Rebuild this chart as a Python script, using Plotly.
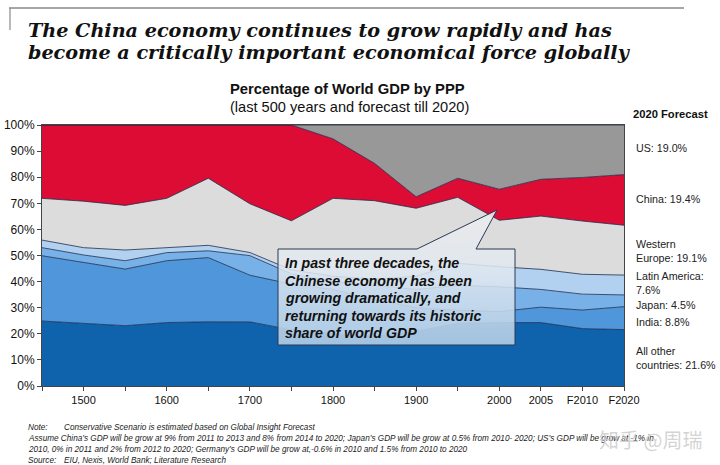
import plotly.graph_objects as go

# ---------------- data ----------------
categories = ["", "1500", "", "1600", "", "1700", "", "1800", "", "1900", "", "2000", "2005", "F2010", "F2020"]
all_other = [24.9, 24.0, 23.1, 24.3, 24.6, 24.6, 21.5, 20.0, 19.0, 21.0, 24.0, 24.3, 24.3, 22.0, 21.6]
india     = [25.0, 23.3, 21.7, 23.7, 24.6, 17.9, 17.5, 17.0, 14.0, 9.0, 5.0, 4.2, 5.9, 7.1, 8.8]
japan     = [3.1, 2.9, 3.2, 3.1, 2.6, 7.5, 4.0, 3.0, 5.5, 7.0, 9.5, 9.5, 6.8, 6.1, 4.5]
latam     = [2.9, 2.8, 4.1, 1.9, 2.1, 1.2, 1.5, 2.0, 2.5, 5.0, 8.5, 7.7, 7.7, 7.6, 7.6]
w_europe  = [16.0, 17.8, 17.1, 18.9, 25.7, 18.7, 18.8, 29.9, 30.0, 26.1, 25.3, 17.8, 20.4, 20.4, 19.1]
china     = [28.1, 29.2, 30.8, 28.1, 20.4, 30.2, 36.7, 22.8, 14.3, 4.4, 7.3, 11.9, 14.1, 16.7, 19.4]
us        = [0.0, 0.0, 0.0, 0.0, 0.0, 0.0, 0.0, 5.3, 14.7, 27.5, 20.4, 24.6, 20.8, 20.1, 19.0]

series_names = ["All other countries", "India", "Japan", "Latin America", "Western Europe", "China", "US"]
series_values = [all_other, india, japan, latam, w_europe, china, us]
series_colors = ["#0F62AC", "#4F96DA", "#78B1E8", "#B2D1F1", "#DCDCDC", "#DC0C35", "#989898"]

forecast_labels = ["US: 19.0%", "China: 19.4%", "Western<br>Europe: 19.1%", "Latin America:<br>7.6%",
                   "Japan: 4.5%", "India: 8.8%", "All other<br>countries: 21.6%"]
y_ticks = [0, 10, 20, 30, 40, 50, 60, 70, 80, 90, 100]

# ---------------- layout geometry ----------------
W, H = 720, 465
ML, MR, MT, MB = 42, 96, 125, 79
PW, PH = W - ML - MR, H - MT - MB


def px(x):
    return (x - ML) / PW


def py(y):
    return (H - MB - y) / PH


xs = list(range(len(categories)))

fig = go.Figure()
for name, vals, col in zip(series_names, series_values, series_colors):
    fig.add_trace(go.Scatter(
        x=xs, y=vals, name=name, mode="lines", stackgroup="one", groupnorm="percent",
        line=dict(color="#1B2B4B", width=0.8), fillcolor=col, hoverinfo="skip"))


# callout box (data coordinates derived from pixel geometry)
def dx(p):
    return (p - ML) / PW * (len(categories) - 1)


def dy(p):
    return (H - MB - p) / PH * 100


box = [(278, 249), (417, 249), (497, 210), (476, 249), (515, 249), (515, 345), (278, 345), (278, 249)]
fig.add_trace(go.Scatter(
    x=[dx(a) for a, b in box], y=[dy(b) for a, b in box], mode="lines", fill="toself",
    fillgradient=dict(type="vertical", colorscale=[[0, "rgba(186,210,232,0.86)"],
                                                   [0.55, "rgba(224,232,240,0.86)"],
                                                   [1, "rgba(236,236,236,0.92)"]]),
    line=dict(color="#2A3A55", width=1), hoverinfo="skip", showlegend=False))

annotations = []
# titles
title_font = dict(family="DejaVu Serif", size=19.2, color="#111")
annotations.append(dict(x=px(26), y=py(30), xref="paper", yref="paper", xanchor="left", yanchor="middle",
                        text="<b><i>The China economy continues to grow rapidly and has</i></b>", showarrow=False,
                        font=title_font))
annotations.append(dict(x=px(26), y=py(53), xref="paper", yref="paper", xanchor="left", yanchor="middle",
                        text="<b><i>become a critically important economical force globally</i></b>", showarrow=False,
                        font=title_font))
annotations.append(dict(x=px(347), y=py(89), xref="paper", yref="paper", xanchor="center", yanchor="middle",
                        text="<b>Percentage of World GDP by PPP</b>", showarrow=False,
                        font=dict(family="Liberation Sans, Arial", size=14.8, color="#111")))
annotations.append(dict(x=px(349), y=py(107), xref="paper", yref="paper", xanchor="center", yanchor="middle",
                        text="(last 500 years and forecast till 2020)", showarrow=False,
                        font=dict(family="Liberation Sans, Arial", size=14.6, color="#111")))
annotations.append(dict(x=px(670), y=py(114), xref="paper", yref="paper", xanchor="center", yanchor="middle",
                        text="<b>2020 Forecast</b>", showarrow=False,
                        font=dict(family="Liberation Sans, Arial", size=11.2, color="#111")))

# forecast labels
label_y = [148, 199, 251, 283, 305, 322, 358]
for t, yy in zip(forecast_labels, label_y):
    annotations.append(dict(x=px(634), y=py(yy), xref="paper", yref="paper", xanchor="left", yanchor="middle",
                            text=t, showarrow=False, align="left",
                            font=dict(family="Liberation Sans, Arial", size=10.7, color="#222")))

# callout text
callout_lines = ["In past three decades, the", "Chinese economy has been", "growing dramatically, and",
                 "returning towards its historic", "share of world GDP"]
for i, t in enumerate(callout_lines):
    annotations.append(dict(x=px(283), y=py(263 + i * 17.6), xref="paper", yref="paper", xanchor="left",
                            yanchor="middle", text="<b><i>" + t + "</i></b>", showarrow=False,
                            font=dict(family="Liberation Sans, Arial", size=14.2, color="#111")))

# notes
note_font = dict(family="Liberation Sans, Arial", size=8.2, color="#222")
notes = [
    (26, 427, "<i>Note:</i>"),
    (62, 427, "<i>Conservative Scenario is estimated based on Global Insight Forecast</i>"),
    (26, 438, "<i>Assume China\u2019s GDP will be grow at 9% from 2011 to 2013 and 8% from 2014 to 2020; Japan\u2019s GDP will be grow at 0.5% from 2010- 2020; US\u2019s GDP will be grow at -1% in</i>"),
    (26, 449, "<i>2010, 0% in 2011 and 2% from 2012 to 2020; Germany\u2019s GDP will be grow at,-0.6% in 2010 and 1.5% from 2010 to 2020</i>"),
    (26, 460, "<i>Source:</i>"),
    (62, 460, "<i>EIU, Nexis, World Bank; Literature Research</i>"),
]
for x0, y0, t in notes:
    annotations.append(dict(x=px(x0), y=py(y0), xref="paper", yref="paper", xanchor="left", yanchor="middle",
                            text=t, showarrow=False, font=note_font))

# watermark
annotations.append(dict(x=px(650), y=py(439), xref="paper", yref="paper", xanchor="center", yanchor="middle",
                        text="知乎 @周瑞", showarrow=False,
                        font=dict(family="Noto Sans CJK SC", size=20, color="rgba(205,205,205,0.85)")))

shapes = [
    dict(type="line", xref="paper", yref="paper", x0=px(9), x1=px(684), y0=py(8), y1=py(8),
         line=dict(color="#8A8A8A", width=1.5)),
    dict(type="line", xref="paper", yref="paper", x0=px(10), x1=px(10), y0=py(8), y1=py(30),
         line=dict(color="#8A8A8A", width=1.2)),
]

fig.update_layout(
    width=W, height=H, margin=dict(l=ML, r=MR, t=MT, b=MB, autoexpand=False),
    paper_bgcolor="white", plot_bgcolor="white", showlegend=False,
    annotations=annotations, shapes=shapes,
    font=dict(family="Liberation Sans, Arial", color="#222"),
)
fig.update_xaxes(range=[0, len(categories) - 1], tickmode="array", tickvals=xs, ticktext=categories,
                 ticks="outside", ticklen=4, tickcolor="#444", showgrid=False, zeroline=False,
                 showline=True, linecolor="#444", linewidth=1, mirror=True, automargin=False,
                 tickfont=dict(family="Liberation Sans, Arial", size=11, color="#111"))
fig.update_yaxes(range=[0, 100], tickmode="array", tickvals=y_ticks, ticktext=[f"{v}%" for v in y_ticks],
                 ticks="outside", ticklen=4, tickcolor="#444", showgrid=False, zeroline=False,
                 showline=True, linecolor="#444", linewidth=1, mirror=True, automargin=False,
                 tickfont=dict(family="Liberation Sans, Arial", size=12, color="#111"))

fig.write_html("out.html")
